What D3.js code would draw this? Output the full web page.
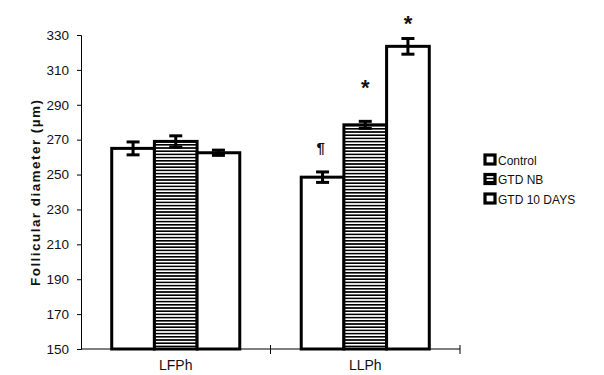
<!DOCTYPE html>
<html>
<head>
<meta charset="utf-8">
<script src="https://cdn.jsdelivr.net/npm/d3@7"></script>
<style>
  body { margin: 0; background: #fff; }
  svg text { font-family: "Liberation Sans", Arial, sans-serif; fill: #111; }
</style>
</head>
<body>
<svg width="604" height="375"></svg>
<script>
(function () {
    const categories = ['LFPh', 'LLPh'];
    const seriesNames = ['Control', 'GTD NB', 'GTD 10 DAYS'];
    const means = [
        [265, 269, 262.5],
        [248.5, 278.5, 323.5]
    ];
    const errors = [
        [3.7, 3.2, 1.5],
        [3, 2, 4.5]
    ];
    // significance marks and the value level they sit at
    const marks = [
        ['', '', ''],
        ['\u00b6', '*', '*']
    ];
    const markLevels = [
        [0, 0, 0],
        [266, 302, 338.5]
    ];
    const yTicks = [150, 170, 190, 210, 230, 250, 270, 290, 310, 330];

    const svg = d3.select('svg');
    const margin = { left: 81, right: 144, top: 35, bottom: 26 };
    const width = 604, height = 375;

    const defs = svg.append('defs');
    const pat = defs.append('pattern')
            .attr('id', 'hatch')
            .attr('patternUnits', 'userSpaceOnUse')
            .attr('width', 6)
            .attr('height', 3.2);
    pat.append('rect').attr('width', 6).attr('height', 3.2).attr('fill', '#fff');
    pat.append('rect').attr('y', 0).attr('width', 6).attr('height', 1.6).attr('fill', '#000');

    const x0 = d3.scaleBand()
            .domain(categories)
            .range([margin.left, width - margin.right])
            .paddingInner(0)
            .paddingOuter(0);
    const x1 = d3.scaleBand()
            .domain(seriesNames)
            .range([0, x0.bandwidth()])
            .paddingOuter(0.72)
            .paddingInner(0);
    const y = d3.scaleLinear()
            .domain([150, 330])
            .range([height - margin.bottom, margin.top]);

    const fills = ['#fff', 'url(#hatch)', '#fff'];

    // y axis
    const yAxis = svg.append('g')
            .attr('transform', `translate(${margin.left},0)`)
            .call(d3.axisLeft(y).tickValues(yTicks).tickSize(4).tickPadding(8));
    yAxis.select('.domain').attr('stroke', '#000').attr('stroke-width', 1);
    yAxis.selectAll('.tick line').attr('stroke', '#000');
    yAxis.selectAll('.tick text')
            .attr('font-size', 13.5)
            .style('font-family', '"Liberation Sans", Arial, sans-serif')
            .style('fill', '#111');

    // x baseline with category separators
    const xAxis = svg.append('g')
            .attr('transform', `translate(0,${y(150)})`);
    xAxis.append('line')
            .attr('x1', margin.left).attr('x2', width - margin.right)
            .attr('stroke', '#000').attr('stroke-width', 1.2);
    xAxis.selectAll('.sep')
            .data([x0.range()[0] + x0.bandwidth(), x0.range()[1]])
            .enter().append('line')
            .attr('x1', d => d).attr('x2', d => d)
            .attr('y1', -4).attr('y2', 5)
            .attr('stroke', '#000');
    xAxis.selectAll('.cat')
            .data(categories)
            .enter().append('text')
            .attr('x', d => x0(d) + x0.bandwidth() / 2)
            .attr('y', 21)
            .attr('text-anchor', 'middle')
            .attr('font-size', 14)
            .text(d => d);

    // bars
    const groups = svg.append('g').selectAll('g')
            .data(categories)
            .enter().append('g')
            .attr('transform', d => `translate(${x0(d)},0)`);

    groups.each(function (cat, ci) {
        const g = d3.select(this);
        seriesNames.forEach((s, si) => {
            const v = means[ci][si];
            g.append('rect')
                .attr('x', x1(s))
                .attr('y', y(v))
                .attr('width', x1.bandwidth())
                .attr('height', y(150) - y(v))
                .attr('fill', fills[si])
                .attr('stroke', '#000')
                .attr('stroke-width', 3);
        });
        seriesNames.forEach((s, si) => {
            const v = means[ci][si], e = errors[ci][si];
            const cx = x1(s) + x1.bandwidth() / 2;
            g.append('line')
                .attr('x1', cx).attr('x2', cx)
                .attr('y1', y(v + e)).attr('y2', y(v - e))
                .attr('stroke', '#000').attr('stroke-width', 3);
            [v + e, v - e].forEach(t => {
                g.append('line')
                    .attr('x1', cx - 6.5).attr('x2', cx + 6.5)
                    .attr('y1', y(t)).attr('y2', y(t))
                    .attr('stroke', '#000').attr('stroke-width', 3);
            });
            const m = marks[ci][si];
            if (m) {
                const star = m === '*';
                g.append('text')
                    .attr('x', cx + (si === 0 ? -2 : 0))
                    .attr('y', y(markLevels[ci][si]) + (star ? 11 : 6))
                    .attr('text-anchor', 'middle')
                    .attr('font-size', star ? 22 : 15)
                    .attr('font-weight', 'bold')
                    .text(m);
            }
        });
    });

    // y title
    svg.append('text')
            .attr('transform', 'translate(40,193) rotate(-90)')
            .attr('text-anchor', 'middle')
            .attr('font-size', 13.5)
            .attr('font-weight', 'bold')
            .attr('textLength', 186)
            .attr('lengthAdjust', 'spacing')
            .text('Follicular diameter (\u00b5m)');

    // legend
    const legend = svg.append('g')
            .selectAll('g')
            .data(seriesNames)
            .enter().append('g')
            .attr('transform', (d, i) => `translate(485,${155 + i * 19.5})`);
    legend.append('rect')
            .attr('width', 10).attr('height', 9)
            .attr('fill', (d, i) => fills[i])
            .attr('stroke', '#000').attr('stroke-width', 3.2);
    legend.append('text')
            .attr('x', 13).attr('y', 9.5)
            .attr('font-size', 12)
            .text(d => d);
})();
</script>
</body>
</html>
